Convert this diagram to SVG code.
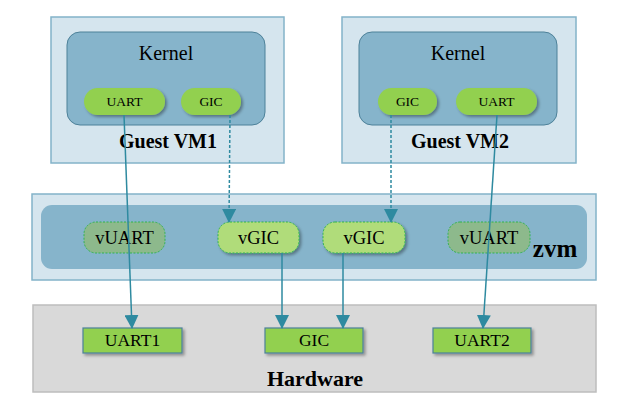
<svg xmlns="http://www.w3.org/2000/svg" width="625" height="410" viewBox="0 0 625 410">
<defs>
<style>
.outer{fill:#d5e5ee;stroke:#83b3c9;stroke-width:1.5}
.kernel{fill:#86b4cb;stroke:#4d8199;stroke-width:1}
.pill{fill:#92d050;filter:url(#sh)}
.vgic{fill:#b0dc7a;stroke:#2fb34f;stroke-width:1;stroke-dasharray:2 1.5;filter:url(#sh)}
.vuart{fill:#8db98c;stroke:#2fb34f;stroke-width:1;stroke-dasharray:2 1.5}
.hw{fill:#92d050;stroke:#4d8199;stroke-width:1.2;filter:url(#sh)}
.t{font-family:"Liberation Serif","Times New Roman",serif;fill:#000;text-anchor:middle}
.b{font-weight:bold}
.c{stroke:#2e8aa0;stroke-width:1.5;fill:none}
.d{stroke-dasharray:3 2}
</style>
<filter id="sh" x="-20%" y="-30%" width="150%" height="170%">
<feDropShadow dx="2" dy="2" stdDeviation="1.8" flood-color="#000" flood-opacity="0.35"/>
</filter>
<marker id="ah" viewBox="0 0 14 14" refX="13" refY="7" markerWidth="14" markerHeight="14" markerUnits="userSpaceOnUse" orient="auto">
<path d="M0,0 L14,7 L0,14 Z" fill="#2e8aa0"/>
</marker>
</defs>

<g id="guest-vm1">
<rect class="outer" x="51" y="17" width="233" height="146"/>
<rect class="kernel" x="67" y="32" width="198" height="93" rx="13"/>
<text class="t" x="166" y="60" font-size="20">Kernel</text>
<text class="t b" x="168" y="148" font-size="20">Guest VM1</text>
</g>
<g id="vm1-uart"><rect class="pill" x="84" y="88" width="81" height="27" rx="13.5"/><text class="t" x="124.5" y="106" font-size="13.5">UART</text></g>
<g id="vm1-gic"><rect class="pill" x="181" y="88" width="60" height="27" rx="13.5"/><text class="t" x="211" y="106" font-size="13.5">GIC</text></g>

<g id="guest-vm2">
<rect class="outer" x="342" y="17" width="234" height="146"/>
<rect class="kernel" x="359" y="32" width="198" height="93" rx="13"/>
<text class="t" x="458" y="60" font-size="20">Kernel</text>
<text class="t b" x="460" y="148" font-size="20">Guest VM2</text>
</g>
<g id="vm2-gic"><rect class="pill" x="378" y="88" width="59" height="27" rx="13.5"/><text class="t" x="407.5" y="106" font-size="13.5">GIC</text></g>
<g id="vm2-uart"><rect class="pill" x="456" y="88" width="81" height="27" rx="13.5"/><text class="t" x="496.5" y="106" font-size="13.5">UART</text></g>

<g id="zvm">
<rect class="outer" x="32" y="194" width="564" height="86"/>
<rect fill="#86b4cb" x="41" y="205" width="546" height="64" rx="11"/>
<text class="t b" x="555" y="257" font-size="25">zvm</text>
</g>
<g id="vuart1"><rect class="vuart" x="84" y="222" width="81" height="31" rx="12"/><text class="t" x="124.5" y="244" font-size="18.5">vUART</text></g>
<g id="vgic1"><rect class="vgic" x="218" y="222" width="81" height="31" rx="12"/><text class="t" x="258.5" y="244" font-size="18.5">vGIC</text></g>
<g id="vgic2"><rect class="vgic" x="323" y="222" width="82" height="31" rx="12"/><text class="t" x="364" y="244" font-size="18.5">vGIC</text></g>
<g id="vuart2"><rect class="vuart" x="448" y="222" width="82" height="31" rx="12"/><text class="t" x="489" y="244" font-size="18.5">vUART</text></g>

<g id="hardware">
<rect fill="#d9d9d9" stroke="#bdbdbd" stroke-width="1.5" x="33" y="305" width="563" height="87"/>
<text class="t b" x="315" y="386" font-size="22">Hardware</text>
</g>
<g id="hw-uart1"><rect class="hw" x="83" y="328" width="99" height="25"/><text class="t" x="132.5" y="346" font-size="17.5">UART1</text></g>
<g id="hw-gic"><rect class="hw" x="265" y="328" width="98" height="25"/><text class="t" x="314" y="346" font-size="17.5">GIC</text></g>
<g id="hw-uart2"><rect class="hw" x="433" y="328" width="98" height="25"/><text class="t" x="482" y="346" font-size="17.5">UART2</text></g>

<g id="connectors">
<line class="c" x1="124" y1="115" x2="132" y2="328" marker-end="url(#ah)"/>
<line class="c d" x1="230" y1="115" x2="229" y2="222" marker-end="url(#ah)"/>
<line class="c" x1="282" y1="253" x2="282" y2="328" marker-end="url(#ah)"/>
<line class="c" x1="343" y1="253" x2="343" y2="328" marker-end="url(#ah)"/>
<line class="c d" x1="391" y1="115" x2="391" y2="222" marker-end="url(#ah)"/>
<line class="c" x1="497" y1="115" x2="483" y2="328" marker-end="url(#ah)"/>
</g>
</svg>
